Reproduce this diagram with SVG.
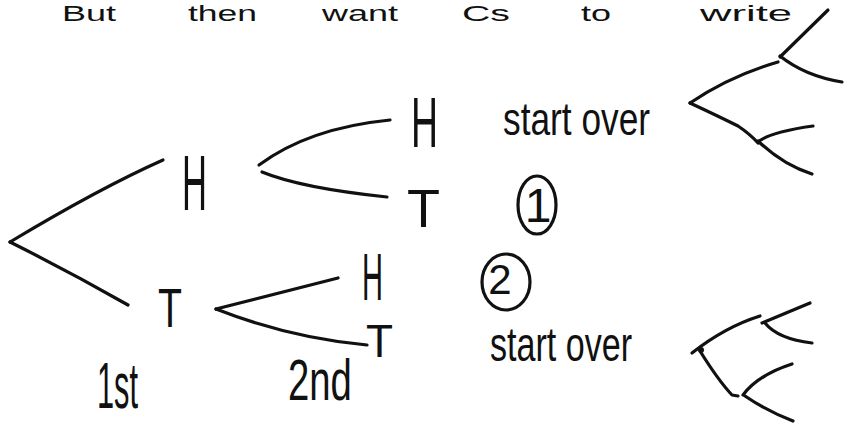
<svg xmlns="http://www.w3.org/2000/svg" width="844" height="425" viewBox="0 0 844 425">
<style>
  .ink { fill: none; stroke: #111; stroke-width: 3.2; stroke-linecap: round; stroke-linejoin: round; }
  .t { font-family: "Liberation Sans", "DejaVu Sans", sans-serif; fill: #111; }
  .hd { font-size: 22px; }
</style>
<rect width="844" height="425" fill="#ffffff"/>

<g id="header">
  <text class="t hd" x="62" y="21" textLength="54" lengthAdjust="spacingAndGlyphs">But</text>
  <text class="t hd" x="188" y="21" textLength="69" lengthAdjust="spacingAndGlyphs">then</text>
  <text class="t hd" x="322" y="21" textLength="76" lengthAdjust="spacingAndGlyphs">want</text>
  <text class="t hd" x="462" y="21" textLength="48" lengthAdjust="spacingAndGlyphs">Cs</text>
  <text class="t hd" x="581" y="21" textLength="30" lengthAdjust="spacingAndGlyphs">to</text>
  <text class="t hd" x="700" y="21" textLength="92" lengthAdjust="spacingAndGlyphs">write</text>
</g>

<g id="connectors">
  <path class="ink" d="M163,160 Q100,188 10,242"/>
  <path class="ink" d="M10,242 Q70,272 128,305"/>
  <path class="ink" d="M259,165 Q309,128 390,120"/>
  <path class="ink" d="M262,172 Q301,188 387,197"/>
  <path class="ink" d="M338,278 L216,309"/>
  <path class="ink" d="M216,309 Q290,338 367,345"/>
</g>

<g id="node-H1"><text class="t" x="182" y="210" font-size="78" textLength="25" lengthAdjust="spacingAndGlyphs">H</text></g>
<g id="node-T1"><text class="t" x="158" y="327" font-size="56" textLength="24" lengthAdjust="spacingAndGlyphs">T</text></g>
<g id="node-HH"><text class="t" x="411" y="147" font-size="70" textLength="27" lengthAdjust="spacingAndGlyphs">H</text></g>
<g id="node-HT"><text class="t" x="407" y="227" font-size="53" textLength="33" lengthAdjust="spacingAndGlyphs">T</text></g>
<g id="node-TH"><text class="t" x="362" y="300" font-size="66" textLength="21" lengthAdjust="spacingAndGlyphs">H</text></g>
<g id="node-TT"><text class="t" x="366" y="357" font-size="46" textLength="27" lengthAdjust="spacingAndGlyphs">T</text></g>

<g id="label-start-over-1"><text class="t" x="503" y="135" font-size="46" textLength="147" lengthAdjust="spacingAndGlyphs">start over</text></g>
<g id="label-start-over-2"><text class="t" x="490" y="361" font-size="48" textLength="142" lengthAdjust="spacingAndGlyphs">start over</text></g>

<g id="label-1">
  <ellipse class="ink" cx="537" cy="205" rx="19" ry="29"/>
  <text class="t" x="538" y="222" font-size="48" text-anchor="middle">1</text>
</g>
<g id="label-2">
  <ellipse class="ink" cx="506" cy="282" rx="24" ry="28"/>
  <text class="t" x="500" y="294" font-size="42" text-anchor="middle">2</text>
</g>

<g id="label-1st"><text class="t" x="97" y="408" font-size="64" textLength="41" lengthAdjust="spacingAndGlyphs">1st</text></g>
<g id="label-2nd"><text class="t" font-size="58" transform="translate(288,400) scale(0.66,1)">2nd</text></g>

<g id="sketch-tree-top">
  <path class="ink" d="M778,62 Q730,76 690,103"/>
  <path class="ink" d="M690,103 Q720,117 738,126 Q750,134 758,143"/>
  <path class="ink" d="M828,10 L780,57"/>
  <path class="ink" d="M780,56 Q805,76 842,82"/>
  <path class="ink" d="M758,142 Q770,132 813,126"/>
  <path class="ink" d="M758,141 Q783,165 812,174"/>
</g>

<g id="sketch-tree-bottom">
  <path class="ink" d="M692,353 Q725,327 760,316"/>
  <path class="ink" d="M762,323 L810,303"/>
  <path class="ink" d="M765,323 Q778,339 812,343"/>
  <path class="ink" d="M700,351 Q718,380 732,395 L738,396"/>
  <path class="ink" d="M743,395 Q758,375 792,364"/>
  <path class="ink" d="M745,396 Q767,411 793,421"/>
  <circle cx="701" cy="350" r="3" fill="#111"/>
</g>
</svg>
